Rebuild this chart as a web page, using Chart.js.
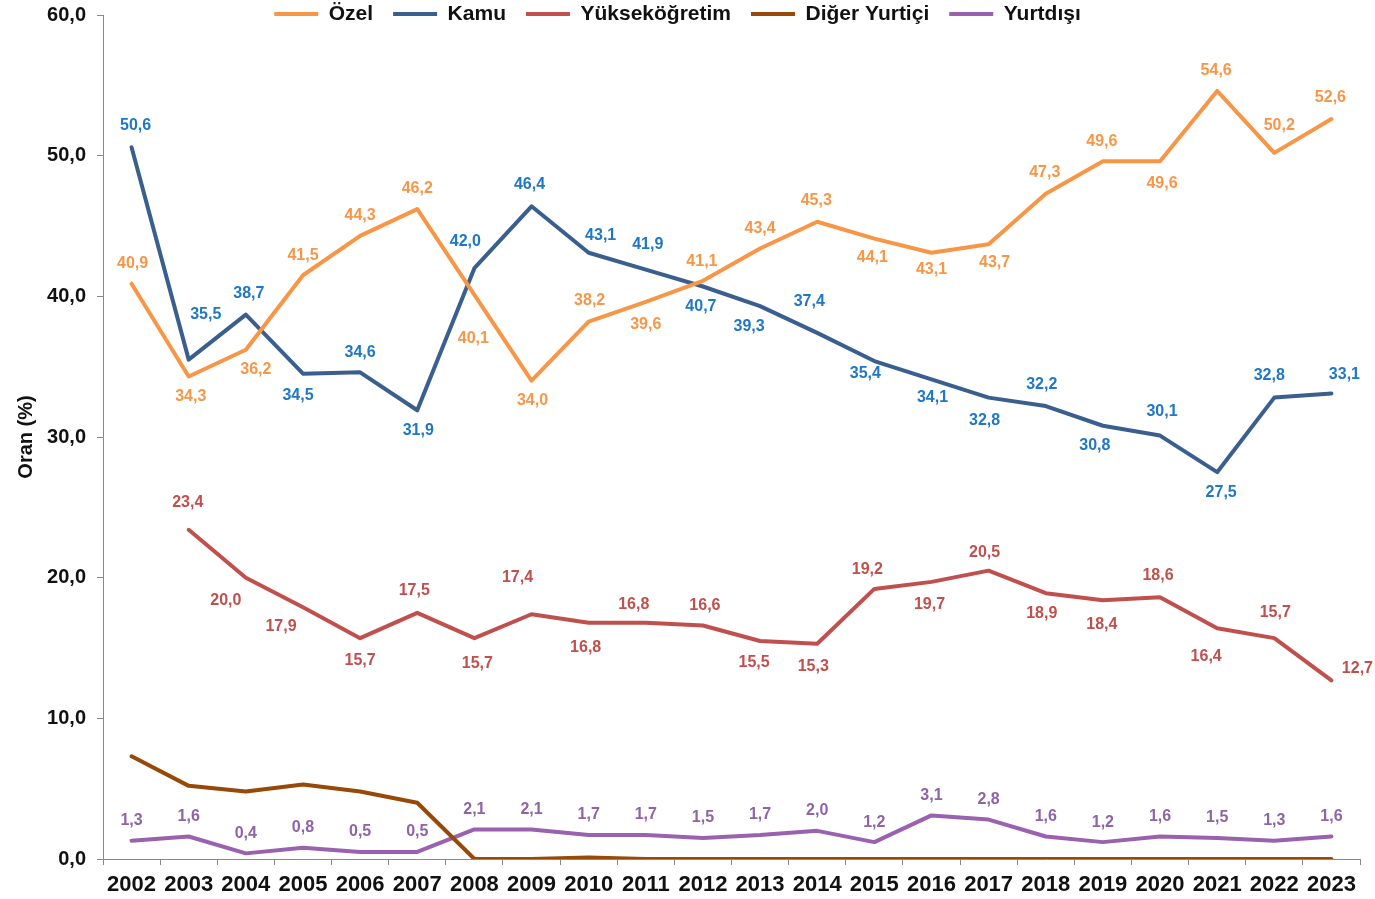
<!DOCTYPE html>
<html>
<head>
<meta charset="utf-8">
<script src="https://cdn.jsdelivr.net/npm/chart.js@4.4.1/dist/chart.umd.min.js"></script>
<style>
html,body{margin:0;padding:0;background:#ffffff;}
#wrap{width:1375px;height:899px;position:relative;}
</style>
</head>
<body>
<div id="wrap"><canvas id="c" width="1375" height="899"></canvas></div>
<script>
// ---- data ----
const years = ['2002','2003','2004','2005','2006','2007','2008','2009','2010','2011','2012','2013','2014','2015','2016','2017','2018','2019','2020','2021','2022','2023'];
const ozel = [40.9,34.3,36.2,41.5,44.3,46.2,40.1,34.0,38.2,39.6,41.1,43.4,45.3,44.1,43.1,43.7,47.3,49.6,49.6,54.6,50.2,52.6];
const kamu = [50.6,35.5,38.7,34.5,34.6,31.9,42.0,46.4,43.1,41.9,40.7,39.3,37.4,35.4,34.1,32.8,32.2,30.8,30.1,27.5,32.8,33.1];
const yuksekogretim = [null,23.4,20.0,17.9,15.7,17.5,15.7,17.4,16.8,16.8,16.6,15.5,15.3,19.2,19.7,20.5,18.9,18.4,18.6,16.4,15.7,12.7];
const digerYurtici = [7.3,5.2,4.8,5.3,4.8,4.0,0,0,0.1,0,0,0,0,0,0,0,0,0,0,0,0,0];
const yurtdisi = [1.3,1.6,0.4,0.8,0.5,0.5,2.1,2.1,1.7,1.7,1.5,1.7,2.0,1.2,3.1,2.8,1.6,1.2,1.6,1.5,1.3,1.6];
const seriesNames = ['Özel','Kamu','Yükseköğretim','Diğer Yurtiçi','Yurtdışı'];
const yMin = 0, yMax = 60, yStep = 10;
const axisTitle = 'Oran (%)';

// ---- label placement (pixel offsets from each point) ----
const ozelLblOff = [[1,-20],[2,20],[10,20],[0,-20],[0,-20],[0,-21],[-1,44],[1,20],[1,-21],[0,23],[-1,-19],[0,-20],[-1,-21],[-2,19],[0,17],[6,18],[-1,-21],[-1,-20],[2,22],[-1,-20],[5,-27],[-1,-21]];
const kamuLblOff = [[4,-22],[17,-45],[3,-21],[-5,22],[0,-20],[1,20],[-9,-27],[-2,-22],[12,-17],[2,-25],[-2,20],[-11,20],[-8,-31],[-9,13],[1,18],[-4,23],[-4,-21],[-8,20],[2,-24],[4,20],[-5,-22],[13,-19]];
const yukLblOff = [[0,0],[-1,-27],[-20,23],[-22,19],[0,22],[-3,-22],[3,25],[-14,-37],[-3,25],[-12,-18],[2,-20],[-6,22],[-4,23],[-7,-19],[-2,23],[-4,-18],[-4,20],[-1,24],[-2,-22],[-11,28],[1,-26],[26,-12]];
const yurtdisiLblOff = years.map(() => [0,-20]);

const FONT = '"Liberation Sans", Arial, sans-serif';
Chart.defaults.font.family = FONT;

const fmt = v => v.toFixed(1).replace('.', ',');

const labelCfg = [
  {color:'#F79646', offsets: ozelLblOff},
  {color:'#1F77C6', offsets: kamuLblOff},
  {color:'#C0504D', offsets: yukLblOff},
  null,
  {color:'#8E63A8', offsets: yurtdisiLblOff}
];

const valueLabels = {
  id: 'valueLabels',
  afterDatasetsDraw(chart) {
    const ctx = chart.ctx;
    chart.data.datasets.forEach((ds, di) => {
      const cfg = labelCfg[di];
      if (!cfg) return;
      const meta = chart.getDatasetMeta(di);
      ctx.save();
      ctx.font = 'bold 16px ' + FONT;
      ctx.fillStyle = cfg.color;
      ctx.textAlign = 'center';
      ctx.textBaseline = 'middle';
      meta.data.forEach((pt, i) => {
        const v = ds.data[i];
        if (v === null || v === undefined) return;
        const o = cfg.offsets[i];
        ctx.fillText(fmt(v), pt.x + o[0], pt.y + o[1]);
      });
      ctx.restore();
    });
  }
};

const LEG_FONT = 21, LEG_PAD = 20;
const legendPlacer = {
  id: 'legendPlacer',
  afterLayout(chart) {
    const lg = chart.legend;
    if (!lg) return;
    lg.left = -10; lg.right = chart.width - 10; lg.width = chart.width;
    lg.top = 14 - LEG_PAD - LEG_FONT / 2;
    lg.height = 80;
    lg.bottom = lg.top + 80;
  }
};

const colors = ['#F79646','#3A5F8F','#C0504D','#984807','#9961AE'];
const seriesData = [ozel, kamu, yuksekogretim, digerYurtici, yurtdisi];

new Chart(document.getElementById('c'), {
  type: 'line',
  data: {
    labels: years,
    datasets: seriesData.map((d, i) => ({
      label: seriesNames[i],
      data: d,
      borderColor: colors[i],
      backgroundColor: colors[i],
      borderWidth: 4,
      pointRadius: 0,
      tension: 0,
      spanGaps: false,
      borderJoinStyle: 'round',
      borderCapStyle: 'round'
    }))
  },
  options: {
    responsive: false,
    animation: false,
    devicePixelRatio: 1,
    layout: { padding: { left: 0, right: 15, top: 0, bottom: 0 } },
    plugins: {
      legend: {
        position: 'top',
        align: 'center',
        maxHeight: 15,
        labels: {
          usePointStyle: true,
          pointStyle: 'line',
          pointStyleWidth: 44,
          boxHeight: 4,
          padding: LEG_PAD,
          color: '#111',
          font: { size: LEG_FONT, weight: 'bold', family: FONT }
        }
      },
      tooltip: { enabled: false }
    },
    scales: {
      x: {
        type: 'category',
        offset: true,
        grid: { offset: true, drawOnChartArea: false, drawTicks: true, tickLength: 6, color: '#888' },
        border: { color: '#888', width: 1 },
        ticks: { color: '#111', padding: 7, maxRotation: 0, autoSkip: false, font: { size: 22, weight: 'bold', family: FONT } },
        afterFit(s) { s.height = 40; }
      },
      y: {
        min: yMin, max: yMax,
        grid: { drawOnChartArea: false, drawTicks: true, tickLength: 6, color: '#888' },
        border: { color: '#888', width: 1 },
        ticks: { stepSize: yStep, color: '#111', padding: 11, font: { size: 20, weight: 'bold' }, callback: v => fmt(v) },
        title: { display: true, text: axisTitle, color: '#111', padding: { top: 14, bottom: 0 }, font: { size: 20, weight: 'bold' } },
        afterFit(s) { s.width = 103; s.paddingTop = 0; s.paddingBottom = 0; }
      }
    }
  },
  plugins: [valueLabels, legendPlacer]
});
</script>
</body>
</html>
